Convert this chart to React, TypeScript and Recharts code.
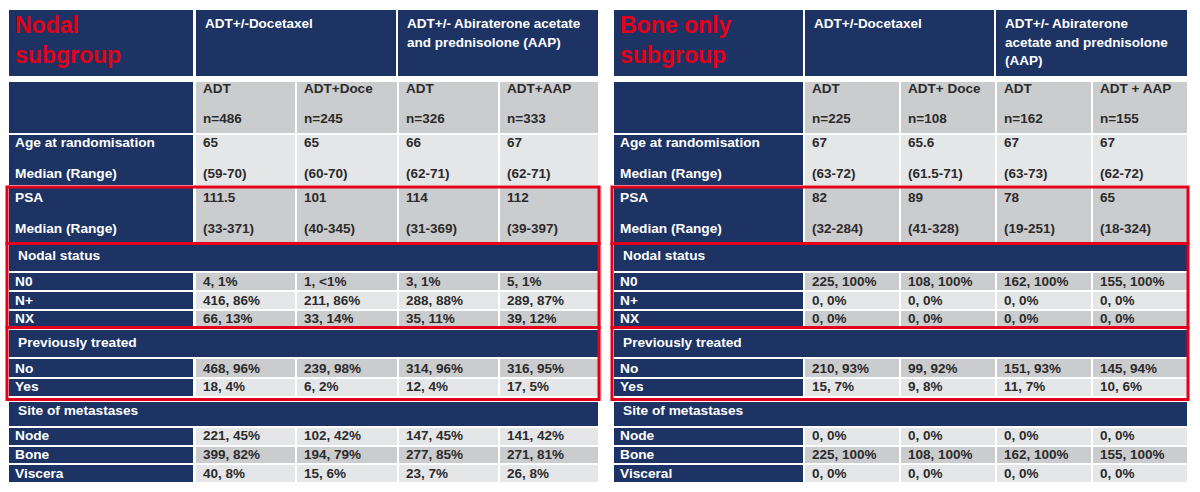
import React from "react";
import { Surface, Layer, Rectangle } from "recharts";

// ---------- DATA ----------
const leftTitle = ["Nodal", "subgroup"];
const rightTitle = ["Bone only", "subgroup"];

const leftGroupHeaders = [["ADT+/-Docetaxel"], ["ADT+/- Abiraterone acetate", "and prednisolone (AAP)"]];
const rightGroupHeaders = [["ADT+/-Docetaxel"], ["ADT+/- Abiraterone", "acetate and prednisolone", "(AAP)"]];

const leftArms = ["ADT", "ADT+Doce", "ADT", "ADT+AAP"];
const leftN = ["n=486", "n=245", "n=326", "n=333"];
const rightArms = ["ADT", "ADT+ Doce", "ADT", "ADT + AAP"];
const rightN = ["n=225", "n=108", "n=162", "n=155"];

const leftAgeMedian = ["65", "65", "66", "67"];
const leftAgeRange = ["(59-70)", "(60-70)", "(62-71)", "(62-71)"];
const rightAgeMedian = ["67", "65.6", "67", "67"];
const rightAgeRange = ["(63-72)", "(61.5-71)", "(63-73)", "(62-72)"];

const leftPsaMedian = ["111.5", "101", "114", "112"];
const leftPsaRange = ["(33-371)", "(40-345)", "(31-369)", "(39-397)"];
const rightPsaMedian = ["82", "89", "78", "65"];
const rightPsaRange = ["(32-284)", "(41-328)", "(19-251)", "(18-324)"];

const leftN0 = ["4, 1%", "1, <1%", "3, 1%", "5, 1%"];
const leftNplus = ["416, 86%", "211, 86%", "288, 88%", "289, 87%"];
const leftNX = ["66, 13%", "33, 14%", "35, 11%", "39, 12%"];
const rightN0 = ["225, 100%", "108, 100%", "162, 100%", "155, 100%"];
const rightNplus = ["0, 0%", "0, 0%", "0, 0%", "0, 0%"];
const rightNX = ["0, 0%", "0, 0%", "0, 0%", "0, 0%"];

const leftPrevNo = ["468, 96%", "239, 98%", "314, 96%", "316, 95%"];
const leftPrevYes = ["18, 4%", "6, 2%", "12, 4%", "17, 5%"];
const rightPrevNo = ["210, 93%", "99, 92%", "151, 93%", "145, 94%"];
const rightPrevYes = ["15, 7%", "9, 8%", "11, 7%", "10, 6%"];

const leftNode = ["221, 45%", "102, 42%", "147, 45%", "141, 42%"];
const leftBone = ["399, 82%", "194, 79%", "277, 85%", "271, 81%"];
const leftVisc = ["40, 8%", "15, 6%", "23, 7%", "26, 8%"];
const rightNode = ["0, 0%", "0, 0%", "0, 0%", "0, 0%"];
const rightBone = ["225, 100%", "108, 100%", "162, 100%", "155, 100%"];
const rightVisc = ["0, 0%", "0, 0%", "0, 0%", "0, 0%"];

const sectionLabels = ["Nodal status", "Previously treated", "Site of metastases"];
const nodalLabels = ["N0", "N+", "NX"];
const prevLabels = ["No", "Yes"];
const leftSiteLabels = ["Node", "Bone", "Viscera"];
const rightSiteLabels = ["Node", "Bone", "Visceral"];

// ---------- STYLE ----------
const NAVY = "#1c3364";
const GRAY_D = "#cbccce";
const GRAY_L = "#e5e6e8";
const RED = "#e2001a";
const TXT = "#2b2b2b";
const FONT = "'Liberation Sans', Arial, sans-serif";

type RowSpec = {
  kind: "data" | "section";
  y0: number;
  y1: number;
  labels: string[];
  base: number[];
  values?: string[][];
  shade?: string;
};

function buildRows(side: "L" | "R"): RowSpec[] {
  const L = side === "L";
  return [
    { kind: "data", y0: 82, y1: 133, labels: [], base: [93, 123], values: [L ? leftArms : rightArms, L ? leftN : rightN], shade: GRAY_D },
    { kind: "data", y0: 135, y1: 185, labels: ["Age at randomisation", "Median (Range)"], base: [147, 178], values: [L ? leftAgeMedian : rightAgeMedian, L ? leftAgeRange : rightAgeRange], shade: GRAY_L },
    { kind: "data", y0: 188, y1: 242, labels: ["PSA", "Median (Range)"], base: [202, 233], values: [L ? leftPsaMedian : rightPsaMedian, L ? leftPsaRange : rightPsaRange], shade: GRAY_D },
    { kind: "section", y0: 245, y1: 271, labels: [sectionLabels[0]], base: [260] },
    { kind: "data", y0: 273, y1: 290, labels: [nodalLabels[0]], base: [286], values: [L ? leftN0 : rightN0], shade: GRAY_D },
    { kind: "data", y0: 292, y1: 309, labels: [nodalLabels[1]], base: [305], values: [L ? leftNplus : rightNplus], shade: GRAY_L },
    { kind: "data", y0: 311, y1: 327, labels: [nodalLabels[2]], base: [323], values: [L ? leftNX : rightNX], shade: GRAY_D },
    { kind: "section", y0: 330, y1: 357, labels: [sectionLabels[1]], base: [347] },
    { kind: "data", y0: 359, y1: 377, labels: [prevLabels[0]], base: [373], values: [L ? leftPrevNo : rightPrevNo], shade: GRAY_D },
    { kind: "data", y0: 379, y1: 396, labels: [prevLabels[1]], base: [391], values: [L ? leftPrevYes : rightPrevYes], shade: GRAY_L },
    { kind: "section", y0: 402, y1: 426, labels: [sectionLabels[2]], base: [415] },
    { kind: "data", y0: 428, y1: 445, labels: [(L ? leftSiteLabels : rightSiteLabels)[0]], base: [440], values: [L ? leftNode : rightNode], shade: GRAY_L },
    { kind: "data", y0: 447, y1: 463, labels: [(L ? leftSiteLabels : rightSiteLabels)[1]], base: [459], values: [L ? leftBone : rightBone], shade: GRAY_D },
    { kind: "data", y0: 465, y1: 482, labels: [(L ? leftSiteLabels : rightSiteLabels)[2]], base: [478], values: [L ? leftVisc : rightVisc], shade: GRAY_L },
  ];
}

type Geo = { x0: number; labelEnd: number; cols: number[]; split: number; right: number };

const GEO_L: Geo = { x0: 9, labelEnd: 193, cols: [196, 297, 399, 500], split: 398, right: 598 };
const GEO_R: Geo = { x0: 614, labelEnd: 803, cols: [805, 901, 997, 1093], split: 996, right: 1187 };

function Table({ g, side }: { g: Geo; side: "L" | "R" }) {
  const title = side === "L" ? leftTitle : rightTitle;
  const groups = side === "L" ? leftGroupHeaders : rightGroupHeaders;
  const rows = buildRows(side);
  const colEnd = (i: number) => (i < 3 ? g.cols[i + 1] - 2 : g.right);
  const items: React.ReactNode[] = [];

  // top header
  items.push(<Rectangle key="h0" x={g.x0} y={10} width={g.labelEnd - g.x0} height={66} fill={NAVY} />);
  items.push(<Rectangle key="h1" x={g.cols[0]} y={10} width={g.split - 2 - g.cols[0]} height={66} fill={NAVY} />);
  items.push(<Rectangle key="h2" x={g.split} y={10} width={g.right - g.split} height={66} fill={NAVY} />);
  title.forEach((t, i) =>
    items.push(
      <text key={"t" + i} x={g.x0 + 6} y={33 + i * 30} fill={RED} fontFamily={FONT} fontWeight="bold" fontSize={23}>
        {t}
      </text>
    )
  );
  groups.forEach((lines, gi) =>
    lines.forEach((ln, li) =>
      items.push(
        <text key={"g" + gi + li} x={(gi === 0 ? g.cols[0] : g.split) + 9} y={28 + li * 18.5} fill="#fff" fontFamily={FONT} fontWeight="bold" fontSize={13.5}>
          {ln}
        </text>
      )
    )
  );

  rows.forEach((r, ri) => {
    if (r.kind === "section") {
      items.push(<Rectangle key={"s" + ri} x={g.x0} y={r.y0} width={g.right - g.x0} height={r.y1 - r.y0} fill={NAVY} />);
      items.push(
        <text key={"st" + ri} x={g.x0 + 9} y={r.base[0]} fill="#fff" fontFamily={FONT} fontWeight="bold" fontSize={13.7}>
          {r.labels[0]}
        </text>
      );
      return;
    }
    items.push(<Rectangle key={"l" + ri} x={g.x0} y={r.y0} width={g.labelEnd - g.x0} height={r.y1 - r.y0} fill={NAVY} />);
    r.labels.forEach((lb, li) =>
      items.push(
        <text key={"lt" + ri + "_" + li} x={g.x0 + 6} y={r.base[li]} fill="#fff" fontFamily={FONT} fontWeight="bold" fontSize={13.7}>
          {lb}
        </text>
      )
    );
    g.cols.forEach((cx, ci) => {
      items.push(<Rectangle key={"c" + ri + "_" + ci} x={cx} y={r.y0} width={colEnd(ci) - cx} height={r.y1 - r.y0} fill={r.shade} />);
      (r.values || []).forEach((vals, li) =>
        items.push(
          <text key={"v" + ri + "_" + ci + "_" + li} x={cx + 7} y={r.base[li]} fill={TXT} fontFamily={FONT} fontWeight="bold" fontSize={13.5}>
            {vals[ci]}
          </text>
        )
      );
    });
  });

  // red highlight boxes
  const bx = g.x0 - 2;
  const bw = g.right - g.x0 + 3;
  [[187, 243.5], [243.5, 327.5], [327.5, 399.5]].forEach(([a, b], i) =>
    items.push(<rect key={"rb" + i} x={bx} y={a} width={bw} height={b - a} fill="none" stroke={RED} strokeWidth={3} />)
  );

  return <Layer>{items}</Layer>;
}

export default function App() {
  return (
    <div style={{ position: "absolute", left: 0, top: 0, width: 1200, height: 492, background: "#fff" }}>
      <Surface width={1200} height={492} viewBox={{ x: 0, y: 0, width: 1200, height: 492 }}>
        <rect x={0} y={0} width={1200} height={492} fill="#fff" />
        <rect x={600} y={186} width={1.5} height={214} fill="#f6c4c8" />
        <Table g={GEO_L} side="L" />
        <Table g={GEO_R} side="R" />
      </Surface>
    </div>
  );
}
